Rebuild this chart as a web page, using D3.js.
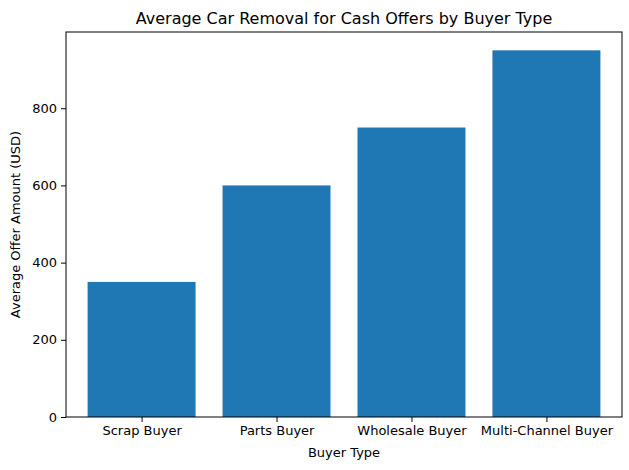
<!DOCTYPE html>
<html>
<head>
<meta charset="utf-8">
<script src="https://cdn.jsdelivr.net/npm/d3@7"></script>
<style>
  body { margin: 0; background: #fff; }
  text { font-family: "DejaVu Sans", sans-serif; fill: #000; }
</style>
</head>
<body>
<svg id="chart" width="629" height="470"></svg>
<script>
var categories = ["Scrap Buyer", "Parts Buyer", "Wholesale Buyer", "Multi-Channel Buyer"];
var offers = [350, 600, 750, 950];
var yTicks = [0, 200, 400, 600, 800];

var plotLeft = 66, plotRight = 622, plotTop = 32, plotBottom = 417;
var svg = d3.select("#chart");

// matplotlib-style x limits: bars of width 0.8 with 5% margins
var xScale = d3.scaleLinear().domain([-0.56, categories.length - 1 + 0.56]).range([plotLeft, plotRight]);
var yScale = d3.scaleLinear().domain([0, d3.max(offers) * 1.05]).range([plotBottom, plotTop]);

svg.selectAll(".bar")
    .data(offers)
    .enter().append("rect")
    .attr("class", "bar")
    .attr("x", function(d, i) { return xScale(i - 0.4); })
    .attr("width", xScale(0.4) - xScale(-0.4))
    .attr("y", function(d) { return yScale(d); })
    .attr("height", function(d) { return plotBottom - yScale(d); })
    .attr("fill", "#1f77b4");

var xAxis = d3.axisBottom(xScale)
    .tickValues(d3.range(categories.length))
    .tickFormat(function(i) { return categories[i]; })
    .tickSize(5).tickPadding(4);
var gx = svg.append("g").attr("transform", "translate(0," + plotBottom + ")").call(xAxis);

var yAxis = d3.axisLeft(yScale).tickValues(yTicks).tickSize(5).tickPadding(4);
var gy = svg.append("g").attr("transform", "translate(" + plotLeft + ",0)").call(yAxis);

[gx, gy].forEach(function(g) {
  g.select(".domain").remove();
  g.selectAll("text").style("font-size", "13px").style("font-family", "DejaVu Sans");
  g.selectAll("line").attr("stroke", "#000");
});

svg.append("rect")
    .attr("x", plotLeft).attr("y", plotTop)
    .attr("width", plotRight - plotLeft).attr("height", plotBottom - plotTop)
    .attr("fill", "none").attr("stroke", "#000").attr("stroke-width", 1);

svg.append("text")
    .attr("x", (plotLeft + plotRight) / 2).attr("y", 24)
    .attr("text-anchor", "middle").style("font-size", "16px")
    .text("Average Car Removal for Cash Offers by Buyer Type");

svg.append("text")
    .attr("x", (plotLeft + plotRight) / 2).attr("y", 457)
    .attr("text-anchor", "middle").style("font-size", "13px")
    .text("Buyer Type");

svg.append("text")
    .attr("transform", "translate(20," + (plotTop + plotBottom) / 2 + ") rotate(-90)")
    .attr("text-anchor", "middle").style("font-size", "13px")
    .text("Average Offer Amount (USD)");
</script>
</body>
</html>
